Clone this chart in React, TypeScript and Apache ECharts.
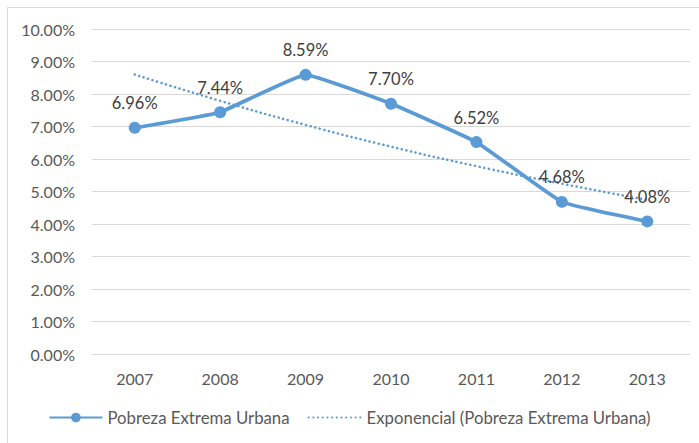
import React, { useEffect, useRef } from "react";
import * as echarts from "echarts";

const years = ["2007", "2008", "2009", "2010", "2011", "2012", "2013"];
const pobrezaUrbana = [6.96, 7.44, 8.59, 7.7, 6.52, 4.68, 4.08];
const tendencia = [8.6, 7.79, 7.05, 6.38, 5.78, 5.24, 4.74];
const seriesNames = ["Pobreza Extrema Urbana", "Exponencial (Pobreza Extrema Urbana)"];

const BLUE = "#5B9BD5";
const FONT = "Lato";

export default function App() {
  const ref = useRef<HTMLDivElement>(null);
  useEffect(() => {
    if (!ref.current) return;
    const chart = echarts.init(ref.current, undefined, { renderer: "svg" });
    chart.setOption({
      animation: false,
      backgroundColor: "#ffffff",
      textStyle: { fontFamily: FONT },
      graphic: [
        {
          type: "rect",
          shape: { x: 7.5, y: 7.5, width: 720, height: 500 },
          style: { fill: "none", stroke: "#d9d9d9", lineWidth: 1 },
          silent: true,
          z: -1,
        },
      ],
      grid: { left: 92, right: 9, top: 29, bottom: 89 },
      xAxis: {
        type: "category",
        data: years,
        boundaryGap: true,
        axisLine: { show: false },
        axisTick: { show: false },
        axisLabel: { color: "#595959", fontSize: 16, fontFamily: FONT, margin: 16 },
      },
      yAxis: {
        type: "value",
        min: 0,
        max: 10,
        interval: 1,
        axisLine: { show: false },
        axisTick: { show: false },
        splitLine: { lineStyle: { color: "#d9d9d9", width: 1 } },
        axisLabel: {
          color: "#595959",
          fontSize: 16,
          fontFamily: FONT,
          margin: 17,
          formatter: (v: number) => v.toFixed(2) + "%",
        },
      },
      legend: {
        bottom: 12,
        left: "center",
        itemWidth: 53,
        itemHeight: 12,
        itemGap: 18,
        textStyle: { color: "#595959", fontSize: 16.8, fontFamily: FONT },
        data: [
          { name: seriesNames[0] },
          { name: seriesNames[1], itemStyle: { opacity: 0 } },
        ],
      },
      series: [
        {
          name: seriesNames[0],
          type: "line",
          data: pobrezaUrbana,
          smooth: 0.1,
          symbol: "circle",
          symbolSize: 12,
          itemStyle: { color: BLUE },
          lineStyle: { color: BLUE, width: 3.8 },
          label: {
            show: true,
            position: "top",
            distance: 10,
            color: "#404040",
            fontSize: 16.5,
            fontFamily: FONT,
            formatter: (p: any) => p.value.toFixed(2) + "%",
          },
          z: 3,
        },
        {
          name: seriesNames[1],
          type: "line",
          data: tendencia,
          smooth: true,
          symbol: "none",
          itemStyle: { color: BLUE },
          lineStyle: { color: BLUE, width: 2.5, type: [0.1, 4.6], cap: "round" },
          z: 2,
        },
      ],
    });
    return () => chart.dispose();
  }, []);
  return (
    <div
      ref={ref}
      style={{ position: "fixed", left: 0, top: 0, width: 699, height: 443 }}
    />
  );
}
